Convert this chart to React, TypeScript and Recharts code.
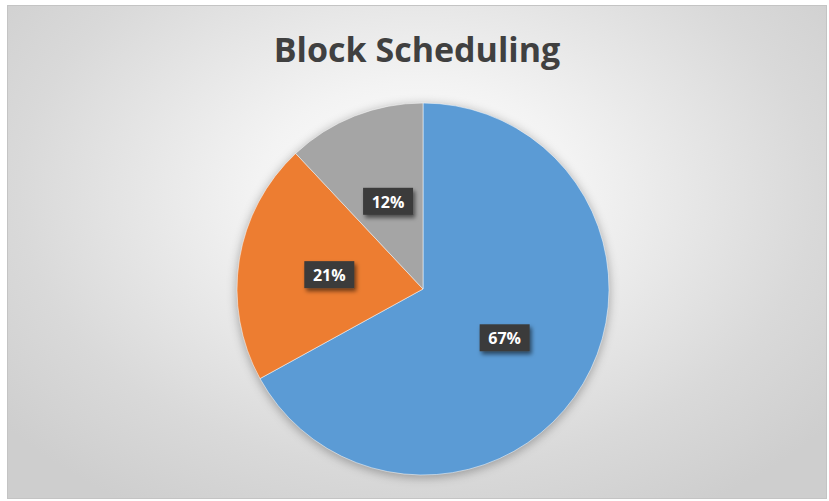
import React from 'react';
import { PieChart, Pie, Cell } from 'recharts';

const categories = ['Block A', 'Block B', 'Block C'];
const shares = [67, 21, 12];
const colors = ['#5B9BD5', '#ED7D31', '#A5A5A5'];

const data = categories.map((name, i) => ({ name, value: shares[i] }));
const shadowData = [{ name: 'shadow', value: 1 }];

const RAD = Math.PI / 180;

const renderLabel = (props: any) => {
    const { cx, cy, midAngle, outerRadius, percent } = props;
    const r = outerRadius * 0.51;
    const x = cx + r * Math.cos(-midAngle * RAD);
    const y = cy + r * Math.sin(-midAngle * RAD);
    return (
        <g>
            <rect x={x - 25} y={y - 13} width={50} height={27} fill="#3a3a3a" filter="url(#lblShadow)" />
            <text x={x} y={y + 1} fill="#ffffff" textAnchor="middle" dominantBaseline="central"
                style={{ fontFamily: '"Open Sans", sans-serif', fontWeight: 700, fontSize: 16 }}>
                {`${Math.round(percent * 100)}%`}
            </text>
        </g>
    );
};

export default function App() {
    return (
        <div style={{
            position: 'absolute', left: 7, top: 5, width: 820, height: 494, boxSizing: 'border-box',
            border: '1px solid #c4c4c4',
            background: 'radial-gradient(ellipse 65% 75% at 50% 38%, #ffffff 0%, #f3f3f3 30%, #d9d9d9 75%, #cecece 100%)',
        }}>
            <div style={{
                position: 'absolute', left: 0, width: '100%', top: 20, textAlign: 'center',
                fontFamily: '"Open Sans", sans-serif', fontWeight: 700, fontSize: 34, color: '#404040',
            }}>
                Block Scheduling
            </div>
            <PieChart width={818} height={492} style={{ position: 'absolute', left: 0, top: 0 }}>
                <defs>
                    <filter id="pieShadow" x="-20%" y="-20%" width="140%" height="140%">
                        <feGaussianBlur stdDeviation="5" />
                    </filter>
                    <filter id="lblShadow" x="-30%" y="-30%" width="170%" height="170%">
                        <feDropShadow dx="2" dy="3" stdDeviation="2" floodColor="#000" floodOpacity="0.55" />
                    </filter>
                </defs>
                <Pie
                    data={shadowData}
                    dataKey="value"
                    cx={410}
                    cy={280}
                    outerRadius={187}
                    stroke="none"
                    isAnimationActive={false}
                >
                    <Cell fill="#000" fillOpacity={0.28} filter="url(#pieShadow)" />
                </Pie>
                <Pie
                    data={data}
                    dataKey="value"
                    nameKey="name"
                    cx={410}
                    cy={278}
                    outerRadius={186}
                    startAngle={90}
                    endAngle={-270}
                    stroke="rgba(255,255,255,0.5)"
                    strokeWidth={1}
                    label={renderLabel}
                    labelLine={false}
                    isAnimationActive={false}
                >
                    {data.map((d, i) => (
                        <Cell key={d.name} fill={colors[i]} />
                    ))}
                </Pie>
            </PieChart>
        </div>
    );
}
